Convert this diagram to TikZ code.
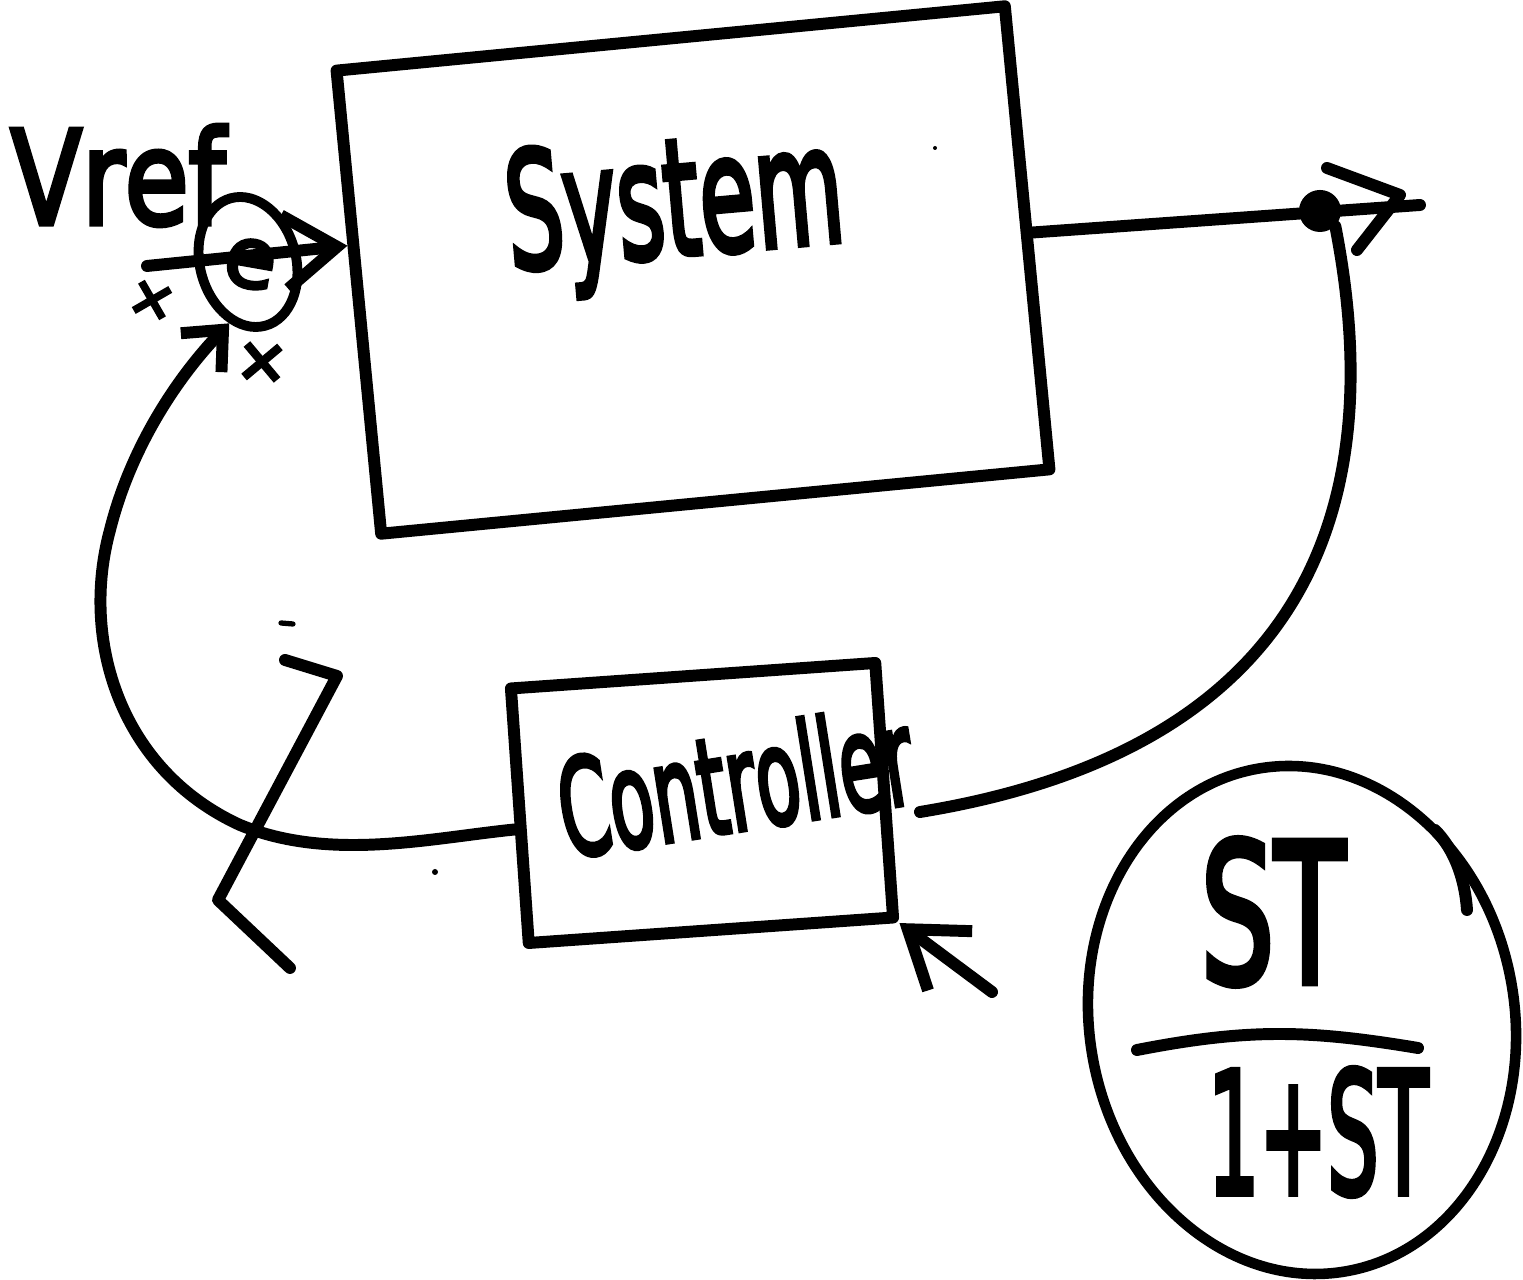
\documentclass[tikz,border=0pt]{standalone}
\usepackage{fontspec}
\setmainfont[Kerning=Off,FakeBold=4]{DejaVu Sans}
\usetikzlibrary{arrows.meta,shapes.geometric,calc}
\begin{document}
\begin{tikzpicture}[x=0.01cm,y=-0.01cm,
  ink/.style={line width=3.4pt, line cap=round, line join=round},
  box/.style={draw, ink, rectangle, inner sep=0pt},
  hand/.style={inner sep=0pt},
  barb/.style={-{Straight Barb[length=15pt,width=21pt]}},
  smallbarb/.style={-{Straight Barb[length=9pt,width=16pt]}},
]
\useasboundingbox (0,0) rectangle (1523,1280);

% System block
\node[box, minimum width=6.71cm, minimum height=4.65cm, rotate=5.5] (sys) at (693,270) {};
\node[hand, rotate=5, anchor=base west] (systxt) at (510,270) {\fontsize{46}{50}\selectfont\scalebox{0.56}[1]{System}};

% Controller block
\node[box, minimum width=3.65cm, minimum height=2.55cm, rotate=4] (ctrl) at (702,803) {};
\node[hand, rotate=9, anchor=base west] (ctrltxt) at (566,858) {\fontsize{38}{40}\selectfont\scalebox{0.54}[1]{Controller}};

% summing junction
\node[draw, ink, line width=2.8pt, ellipse, minimum width=0.96cm, minimum height=1.32cm, rotate=15, inner sep=0pt] (sum) at (248,262) {};
\node[hand, rotate=-10] (esym) at (250,264) {\fontsize{24}{24}\selectfont e};
\node[hand, anchor=base west] (vref) at (10,224) {\fontsize{37}{40}\selectfont\scalebox{0.8}[1]{Vref}};
\node[hand, rotate=30] (p1) at (152,300) {\fontsize{18}{18}\selectfont +};
\node[hand, rotate=40] (p2) at (262,362) {\fontsize{20}{20}\selectfont +};

% input arrow
\coordinate (vin) at (147,266);
\coordinate (sysin) at ($(sys.north west)!0.38!(sys.south west)$);
\draw[ink, barb] (vin) -- (sysin);

% output
\coordinate (sysout) at ($(sys.north east)!0.49!(sys.south east)$);
\coordinate (out) at (1420,205);
\node[circle, fill, inner sep=0pt, minimum size=0.42cm] (dot) at (1320,211) {};
\draw[ink] (sysout) -- (out);
\coordinate (tri1) at (1327,168);
\coordinate (tri2) at (1400,195);
\coordinate (tri3) at (1357,250);
\draw[ink] (tri1) -- (tri2) -- (tri3);

% feedback to controller
\coordinate (ctrlin) at (920,812);
\draw[ink] (dot.south east) .. controls (1385,480) and (1330,745) .. (ctrlin);

% controller to summing junction
\coordinate (ctrlout) at ($(ctrl.north west)!0.55!(ctrl.south west)$);
\draw[ink, smallbarb] (ctrlout) .. controls (430,838) and (330,862) .. (240,825)
  .. controls (120,770) and (80,640) .. (110,530)
  .. controls (130,450) and (175,380) .. (sum.238);

% zigzag stroke and marks
\draw[ink] (285,660) -- (337,676) -- (218,900) -- (290,968);
\draw[line width=1.5pt, line cap=round] (281,623) -- (293,624);
\fill (435,872) circle (3);
\fill (935,148) circle (2);

% arrow into controller corner
\coordinate (cin2) at (992,992);
\draw[ink, barb] (cin2) -- (ctrl.south east);

% transfer function bubble
\node[draw, ink, line width=3pt, ellipse, minimum width=4.25cm, minimum height=5.1cm, rotate=10, inner sep=0pt] (tf) at (1302,1020) {};
\draw[ink] (1137,1050) .. controls (1250,1028) and (1310,1030) .. (1418,1048);
\node[hand] (num) at (1273,912) {\fontsize{55}{55}\selectfont\scalebox{0.6}[1]{ST}};
\node[hand] (den) at (1318,1132) {\fontsize{48}{48}\selectfont\scalebox{0.48}[1]{1+ST}};
\draw[ink] (1435,830) .. controls (1455,850) and (1465,880) .. (1467,910);
\end{tikzpicture}
\end{document}
